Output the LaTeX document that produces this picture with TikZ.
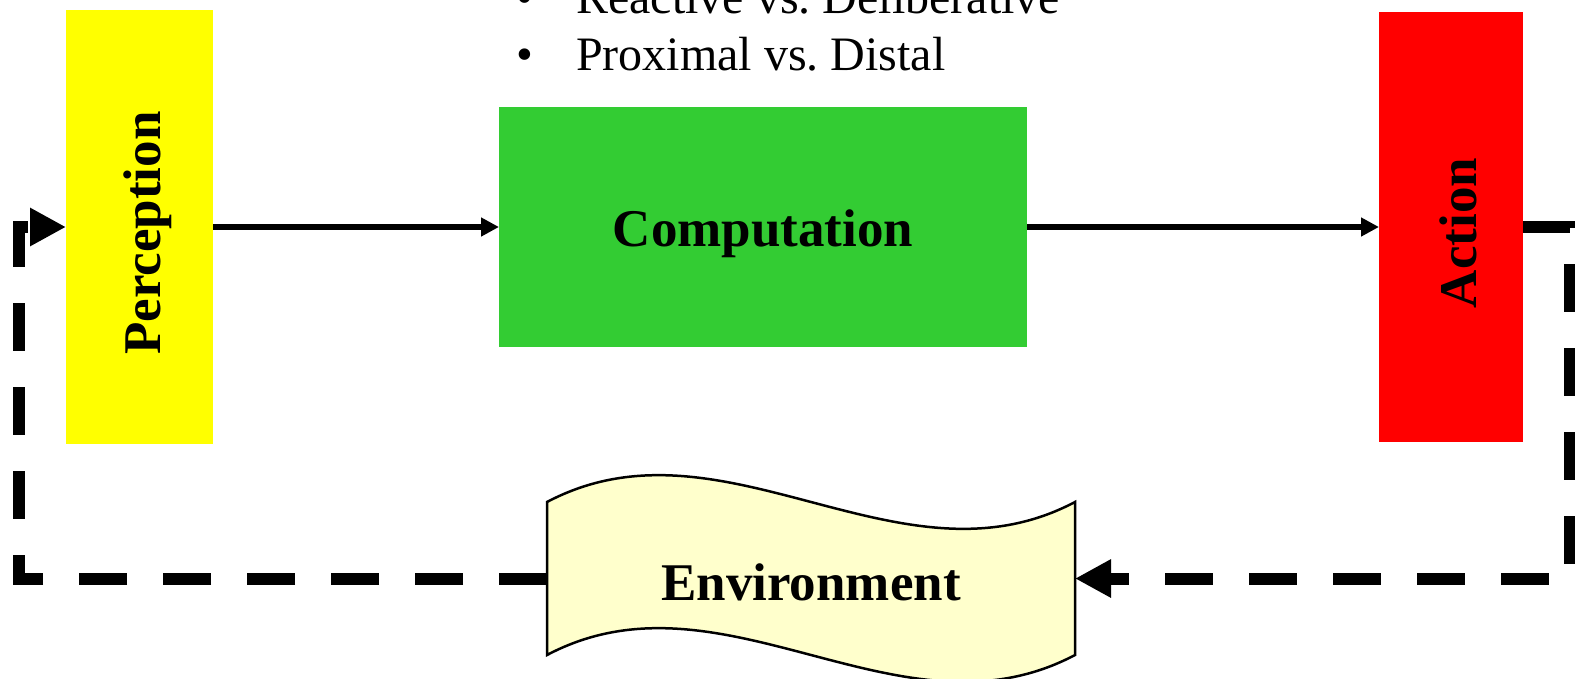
\documentclass[tikz,border=0pt]{standalone}
\usepackage{fontspec}
\setmainfont{Liberation Serif}
\usetikzlibrary{arrows.meta,calc}
\definecolor{percyellow}{HTML}{FFFF00}
\definecolor{compgreen}{HTML}{33CC33}
\definecolor{actred}{HTML}{FF0000}
\definecolor{envfill}{HTML}{FFFFCC}

\begin{document}
\begin{tikzpicture}[x=1pt,y=-1pt,
  block/.style={rectangle, inner sep=0pt, outer sep=0pt},
  bigtext/.style={font=\fontsize{53}{60}\selectfont\bfseries, inner sep=0pt},
  bullettext/.style={font=\fontsize{48}{58}\selectfont, inner sep=0pt, anchor=base west},
  flow/.style={line width=6pt, -{Triangle[length=18pt,width=18pt]}},
  loop/.style={line width=12pt, dash pattern=on 48pt off 36pt,
    -{Triangle[length=36pt,width=36pt]}}
]
\useasboundingbox (0,0) rectangle (1575,678);
\clip (0,0) rectangle (1575,678);

% bullet list above the pipeline
\node[bullettext] (item1) at (516,13) {\makebox[60pt][l]{\textbullet}Reactive vs.\ Deliberative};
\node[bullettext] (item2) at (516,70.5) {\makebox[60pt][l]{\textbullet}Proximal vs.\ Distal};

% the three stages
\node[block, fill=percyellow, minimum width=147pt, minimum height=434pt] (perc) at (139.5,227) {};
\node[bigtext, rotate=90, anchor=base] (percText) at (160,233) {Perception};

\node[block, fill=compgreen, minimum width=528pt, minimum height=240pt] (comp) at (763,227) {};
\node[bigtext, anchor=base] (compText) at (763,246) {Computation};

\node[block, fill=actred, minimum width=144pt, minimum height=430pt] (act) at (1451,227) {};
\node[bigtext, rotate=90, anchor=base] (actText) at (1476,233) {Action};

% environment as a punched-tape shape
\node[block, minimum width=528pt, minimum height=153pt] (env) at (811,578.5) {};
\filldraw[fill=envfill, draw=black, line width=2.5pt]
  (env.north west) .. controls +(176,-93) and +(-176,93) .. (env.north east)
  -- (env.south east) .. controls +(-176,93) and +(176,-93) .. (env.south west)
  -- cycle;
\node[bigtext, anchor=base] (envText) at (811,600) {Environment};

% forward flow
\draw[flow] (perc.east) -- (comp.west);
\draw[flow] (comp.east) -- (act.west);

% feedback loop through the environment
\coordinate (rightTurn) at (1570,227);
\coordinate (rightLow) at (1570,578.5);
\coordinate (leftLow) at (19,578.5);
\coordinate (leftTurn) at (19,227);
\draw[loop] (act.east) -- (rightTurn) -- (rightLow) -- (env.east);
\draw[loop] (env.west) -- (leftLow) -- (leftTurn) -- (perc.west);
\end{tikzpicture}
\end{document}
